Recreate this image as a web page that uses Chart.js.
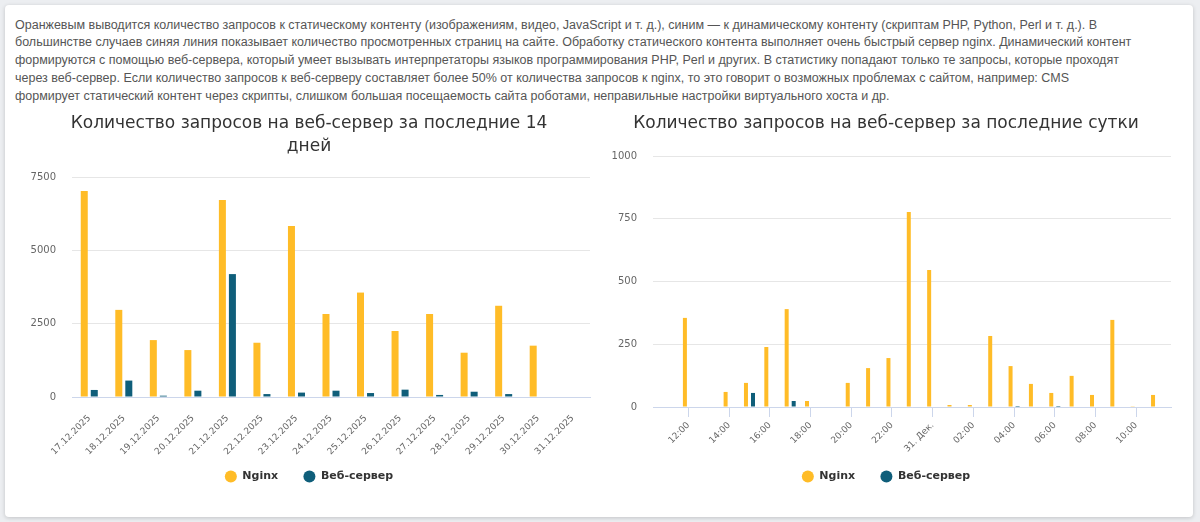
<!DOCTYPE html>
<html lang="ru">
<head>
<meta charset="utf-8">
<title>Запросы</title>
<script src="https://cdn.jsdelivr.net/npm/chart.js"></script>
<style>
    html, body { margin: 0; padding: 0; background: #eceef1; }
    body { width: 1200px; height: 522px; overflow: hidden; position: relative; font-family: "Liberation Sans", Arial, sans-serif; }
    .card { position: absolute; left: 5px; top: 5px; width: 1188px; height: 512px; background: #fff; border-radius: 4px; box-shadow: 0 1px 4px rgba(0,0,0,.18); }
    .note { position: absolute; left: 15px; top: 16.5px; font-size: 12.5px; line-height: 17.8px; color: #555; white-space: nowrap; }
    #days-chart { position: absolute; left: 0; top: 100px; }
    #day-chart { position: absolute; left: 580px; top: 100px; }
</style>
</head>
<body>
<div class="card"></div>
<div class="note">
Оранжевым выводится количество запросов к статическому контенту (изображениям, видео, JavaScript и т. д.), синим — к динамическому контенту (скриптам PHP, Python, Perl и т. д.). В<br>
большинстве случаев синяя линия показывает количество просмотренных страниц на сайте. Обработку статического контента выполняет очень быстрый сервер nginx. Динамический контент<br>
формируются с помощью веб-сервера, который умеет вызывать интерпретаторы языков программирования PHP, Perl и других. В статистику попадают только те запросы, которые проходят<br>
через веб-сервер. Если количество запросов к веб-серверу составляет более 50% от количества запросов к nginx, то это говорит о возможных проблемах с сайтом, например: CMS<br>
формирует статический контент через скрипты, слишком большая посещаемость сайта роботами, неправильные настройки виртуального хоста и др.
</div>
<canvas id="days-chart" width="610" height="392"></canvas>
<canvas id="day-chart" width="610" height="392"></canvas>
<script>
// 14 days
const days = ['17.12.2025', '18.12.2025', '19.12.2025', '20.12.2025', '21.12.2025', '22.12.2025', '23.12.2025',
    '24.12.2025', '25.12.2025', '26.12.2025', '27.12.2025', '28.12.2025', '29.12.2025', '30.12.2025', '31.12.2025'];
const nginxDays = [7020, 2970, 1940, 1600, 6720, 1850, 5830, 2830, 3560, 2250, 2830, 1510, 3110, 1750, 0];
const webDays = [240, 560, 45, 215, 4190, 100, 150, 215, 135, 250, 70, 180, 100, 0, 0];
const daysTicks = [0, 2500, 5000, 7500];

// last 24 hours (hour of day, 24+ = next day)
const hours = [12, 13, 14, 15, 16, 17, 18, 19, 20, 21, 22, 23, 24, 25, 26, 27, 28, 29, 30, 31, 32, 33, 34, 35];
const nginxHours = [355, 0, 60, 96, 239, 390, 24, 0, 96, 155, 195, 777, 546, 8, 8, 283, 163, 92, 56, 124, 48, 347, 3, 48];
const webHours = [0, 0, 0, 56, 0, 24, 0, 0, 0, 0, 0, 0, 0, 0, 0, 0, 4, 0, 4, 0, 0, 0, 0, 0];
const hourTicks = [12, 14, 16, 18, 20, 22, 24, 26, 28, 30, 32, 34];
const hourTickLabels = ['12:00', '14:00', '16:00', '18:00', '20:00', '22:00', '31. Дек.', '02:00', '04:00', '06:00', '08:00', '10:00'];
const dayTicks = [0, 250, 500, 750, 1000];

const orange = '#ffbc27';
const blue = '#0f5e7a';
const labelFont = { family: 'DejaVu Sans', size: 10 };
const xLabelFont = { family: 'DejaVu Sans', size: 9 };

function titleOpts(text, bottom) {
    return {
        display: true,
        text: text,
        color: '#333',
        font: { family: 'DejaVu Sans', size: 17, weight: 'normal', lineHeight: 1.3 },
        padding: { top: 12.95, bottom: bottom }
    };
}

const legendOpts = {
    position: 'bottom',
    labels: {
        usePointStyle: true,
        pointStyle: 'circle',
        boxHeight: 8.5,
        pointStyleWidth: 12,
        padding: 10,
        color: '#333',
        font: { family: 'DejaVu Sans', size: 11, weight: 'bold' },
        // wider gap between items, like the original legend
        generateLabels: chart => Chart.defaults.plugins.legend.labels.generateLabels(chart).map((l, i, all) => {
            if (i < all.length - 1) l.text += '    ';
            return l;
        })
    }
};

function yAxis(max, ticks, width) {
    return {
        min: 0,
        max: max,
        afterBuildTicks: s => { s.ticks = ticks.map(v => ({ value: v })); },
        afterFit: s => { s.width = width; },
        grid: { color: '#e6e6e6', drawTicks: false },
        border: { display: false },
        ticks: { padding: 16, color: '#666', font: labelFont, callback: v => String(v) }
    };
}

// Количество запросов за 14 дней
new Chart(document.getElementById('days-chart'), {
    type: 'bar',
    data: {
        labels: days,
        datasets: [{
            label: 'Nginx',
            data: nginxDays,
            backgroundColor: orange,
            categoryPercentage: 0.58,
            barPercentage: 0.7
        }, {
            label: 'Веб-сервер',
            data: webDays,
            backgroundColor: blue,
            categoryPercentage: 0.58,
            barPercentage: 0.7
        }]
    },
    options: {
        responsive: false,
        animation: false,
        layout: { padding: { left: 28, right: 20, top: 0, bottom: 0 } },
        plugins: {
            title: titleOpts(['Количество запросов на веб-сервер за последние 14', 'дней'], 19.85),
            legend: legendOpts,
            tooltip: { enabled: false }
        },
        scales: {
            x: {
                grid: { display: false },
                border: { display: true, color: '#ccd6eb' },
                afterFit: s => { s.height = 64; },
                ticks: { autoSkip: false, maxRotation: 45, minRotation: 45, padding: 8, color: '#666', font: xLabelFont }
            },
            y: yAxis(7500, daysTicks, 44)
        }
    }
});

// Количество запросов за сутки
new Chart(document.getElementById('day-chart'), {
    type: 'bar',
    data: {
        datasets: [{
            label: 'Nginx',
            data: hours.map((h, i) => ({ x: h, y: nginxHours[i] })),
            backgroundColor: orange,
            categoryPercentage: 0.69,
            barPercentage: 0.57
        }, {
            label: 'Веб-сервер',
            data: hours.map((h, i) => ({ x: h, y: webHours[i] })),
            backgroundColor: blue,
            categoryPercentage: 0.69,
            barPercentage: 0.57
        }]
    },
    options: {
        responsive: false,
        animation: false,
        layout: { padding: { left: 21, right: 19, top: 0, bottom: 0 } },
        plugins: {
            title: titleOpts('Количество запросов на веб-сервер за последние сутки', 20.95),
            legend: legendOpts,
            tooltip: { enabled: false }
        },
        scales: {
            x: {
                type: 'linear',
                min: 10.26,
                max: 35.71,
                offset: false,
                grid: { drawOnChartArea: false, drawTicks: true, tickLength: 10, color: '#ccd6eb', offset: false },
                border: { display: true, color: '#ccd6eb' },
                afterBuildTicks: s => { s.ticks = hourTicks.map(v => ({ value: v })); },
                afterFit: s => { s.height = 54; },
                ticks: {
                    autoSkip: false, maxRotation: 45, minRotation: 45, padding: 3, color: '#666', font: xLabelFont,
                    callback: (v, i) => hourTickLabels[i]
                }
            },
            y: yAxis(1000, dayTicks, 52)
        }
    }
});
</script>
</body>
</html>
